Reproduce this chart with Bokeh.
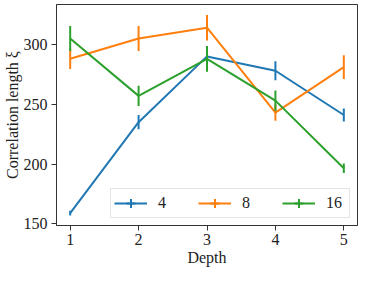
import numpy as np
from bokeh.plotting import figure
from bokeh.models import ColumnDataSource, FixedTicker, Range1d, Legend, LegendItem
from bokeh.embed import file_html
from bokeh.resources import INLINE

depth = [1, 2, 3, 4, 5]
series_names = ["4", "8", "16"]
colors = ["#1f77b4", "#ff7f0e", "#2ca02c"]
xi_4 = [159, 235, 290, 278, 241]
err_4 = [2, 6, 3, 8, 5.5]
xi_8 = [288, 305, 314, 243, 281]
err_8 = [8.6, 10.4, 10.7, 6.8, 10]
xi_16 = [305, 257, 288, 253, 196.5]
err_16 = [10.4, 8.5, 10.8, 8.5, 4]
y_ticks = [150, 200, 250, 300]
x_ticks = [1, 2, 3, 4, 5]

FONT = "Liberation Serif"
FS = "16px"

p = figure(width=358, height=268, output_backend="svg", toolbar_location=None,
           x_range=Range1d(0.8, 5.2), y_range=Range1d(148.6, 333.4),
           min_border_left=0, min_border_right=1, min_border_top=4, min_border_bottom=0)
p.xgrid.visible = False
p.ygrid.visible = False
p.outline_line_color = "#333333"
p.outline_line_width = 1
p.background_fill_color = "white"
p.border_fill_color = "white"

for ax in (p.xaxis[0], p.yaxis[0]):
    ax.axis_line_color = "#333333"
    ax.major_tick_line_color = "#333333"
    ax.minor_tick_line_color = None
    ax.major_tick_out = 5
    ax.major_tick_in = 0
    ax.major_label_text_font = FONT
    ax.major_label_text_font_size = FS
    ax.major_label_text_color = "#222222"
    ax.axis_label_text_font = FONT
    ax.axis_label_text_font_size = FS
    ax.axis_label_text_font_style = "normal"
    ax.axis_label_text_color = "#222222"

p.xaxis.ticker = FixedTicker(ticks=x_ticks)
p.yaxis.ticker = FixedTicker(ticks=y_ticks)
p.xaxis.axis_label = "Depth"
p.yaxis.axis_label = "Correlation length ξ"
p.xaxis.major_label_standoff = 3
p.xaxis.axis_label_standoff = 1
p.yaxis.major_label_standoff = 4
p.yaxis.axis_label_standoff = 0

items = []
for name, col, ys, es in zip(series_names, colors, [xi_4, xi_8, xi_16], [err_4, err_8, err_16]):
    ys = np.array(ys, dtype=float)
    es = np.array(es, dtype=float)
    src = ColumnDataSource(dict(x=depth, y=ys, lo=ys - es, hi=ys + es))
    ln = p.line("x", "y", source=src, line_color=col, line_width=2)
    sg = p.segment(x0="x", y0="lo", x1="x", y1="hi", source=src, line_color=col, line_width=2)
    mk = p.scatter("x", "y", source=src, marker="cross", size=0,
                   line_color=col, line_width=2)
    items.append(LegendItem(label=name, renderers=[ln, mk]))

legend = Legend(items=items, orientation="horizontal", location="bottom_right",
                label_text_font=FONT, label_text_font_size=FS, label_text_color="#222222",
                glyph_width=33, glyph_height=22, label_height=22, label_standoff=11,
                spacing=20, padding=3, margin=7,
                border_line_color="#cccccc", border_line_width=1,
                background_fill_color="white", background_fill_alpha=0.8)
p.add_layout(legend, "center")

open("out.html", "w").write(file_html(p, INLINE))
